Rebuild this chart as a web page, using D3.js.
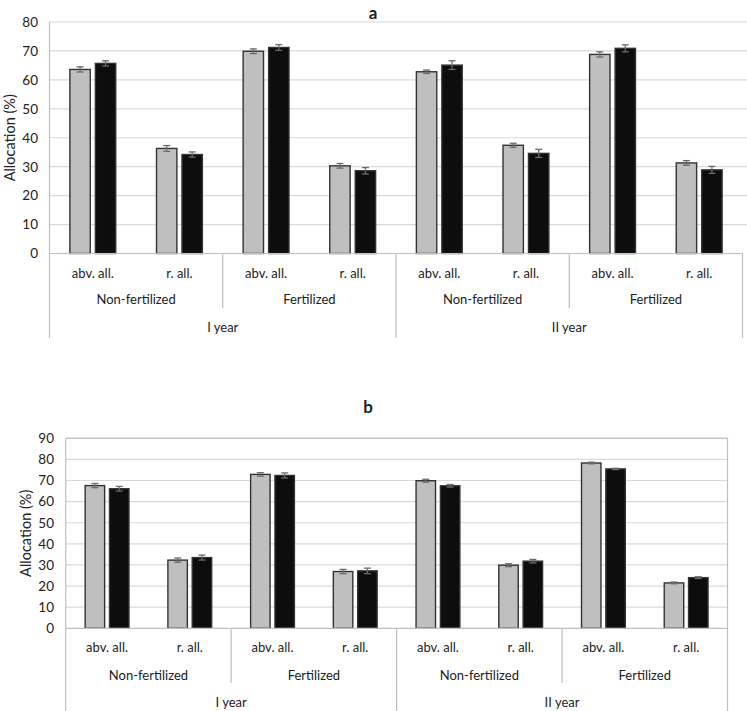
<!DOCTYPE html>
<html>
<head>
<meta charset="utf-8">
<script src="https://cdn.jsdelivr.net/npm/d3@7"></script>
<style>
  body { margin: 0; background: #fff; }
  svg { display: block; }
  text { font-family: Lato, "Open Sans", sans-serif; fill: #222; }
</style>
</head>
<body>
<svg id="chart" width="747" height="711"></svg>
<script>
// ---- data ----
const categories = ["abv. all.", "r. all."];
const treatments = ["Non-fertilized", "Fertilized"];
const years = ["I year", "II year"];
const series = ["grey", "black"];

// Panel a
const aGrey      = [63.6, 36.3, 69.9, 30.3, 62.8, 37.4, 68.8, 31.3];
const aGreyErr   = [0.9, 1.0, 0.8, 0.8, 0.6, 0.7, 0.9, 0.8];
const aBlack     = [65.7, 34.2, 71.2, 28.6, 65.1, 34.6, 70.9, 28.9];
const aBlackErr  = [0.9, 0.9, 1.0, 1.1, 1.5, 1.4, 1.2, 1.2];
const aTicks     = [0, 10, 20, 30, 40, 50, 60, 70, 80];

// Panel b
const bGrey      = [67.6, 32.3, 72.9, 26.9, 69.9, 29.9, 78.3, 21.5];
const bGreyErr   = [1.0, 1.0, 0.8, 1.0, 0.7, 0.7, 0.4, 0.4];
const bBlack     = [66.1, 33.5, 72.4, 27.2, 67.5, 31.8, 75.5, 24.0];
const bBlackErr  = [1.1, 1.2, 1.2, 1.3, 0.6, 0.8, 0.3, 0.4];
const bTicks     = [0, 10, 20, 30, 40, 50, 60, 70, 80, 90];

const svg = d3.select("#chart");

function leaves() {
  const out = [];
  years.forEach((yr, yi) => treatments.forEach((tr, ti) => categories.forEach((c, ci) => {
    out.push({ id: out.length, year: yr, treat: tr, cat: c, yi, ti, ci });
  })));
  return out;
}

function drawPanel(cfg) {
  const g = svg.append("g");
  const L = leaves();
  const x0 = d3.scaleBand().domain(L.map(d => d.id)).range([cfg.left, cfg.right]);
  const x1 = d3.scaleBand().domain(series).range([0, x0.bandwidth()])
    .paddingInner(0.2).paddingOuter(0.8);
  const y = d3.scaleLinear().domain([0, cfg.max]).range([cfg.zero, cfg.top]);

  // grid lines
  g.append("g").selectAll("line").data(cfg.ticks.filter(t => t > 0)).join("line")
    .attr("x1", cfg.left).attr("x2", cfg.gridRight)
    .attr("y1", d => y(d)).attr("y2", d => y(d))
    .attr("stroke", "#d9d9d9").attr("stroke-width", 1.2);

  // y axis tick labels
  const yAxis = d3.axisLeft(y).tickValues(cfg.ticks).tickSize(0).tickPadding(0);
  const ya = g.append("g").attr("transform", `translate(${cfg.tickX},0)`).call(yAxis);
  ya.select(".domain").remove();
  ya.selectAll("text").attr("font-size", 13.5).attr("fill", "#222")
    .style("font-family", "Lato, 'Open Sans', sans-serif");

  // axis title
  g.append("text")
    .attr("transform", `translate(${cfg.titleX},${(cfg.top + cfg.zero) / 2}) rotate(-90)`)
    .attr("text-anchor", "middle").attr("dy", "0.35em")
    .attr("font-size", 14.5).text("Allocation (%)");

  // panel label
  g.append("text").attr("x", cfg.labelX).attr("y", cfg.labelY)
    .attr("text-anchor", "middle").attr("font-weight", "bold")
    .attr("font-size", 17).attr("fill", "#000").text(cfg.label);

  // bars
  const rows = L.map((d, i) => ({ ...d, vals: [
    { s: "grey", v: cfg.grey[i], e: cfg.greyErr[i] },
    { s: "black", v: cfg.black[i], e: cfg.blackErr[i] }
  ]}));
  const grp = g.append("g").selectAll("g").data(rows).join("g")
    .attr("transform", d => `translate(${x0(d.id)},0)`);
  grp.selectAll("rect").data(d => d.vals).join("rect")
    .attr("x", d => x1(d.s)).attr("width", x1.bandwidth())
    .attr("y", d => y(d.v)).attr("height", d => y(0) - y(d.v))
    .attr("fill", d => d.s === "grey" ? "#bfbfbf" : "#0d0d0d")
    .attr("stroke", "#333").attr("stroke-width", 1.4);

  // error bars
  const eb = grp.selectAll("g.err").data(d => d.vals).join("g").attr("class", "err");
  const cx = d => x1(d.s) + x1.bandwidth() / 2;
  eb.append("line").attr("x1", cx).attr("x2", cx)
    .attr("y1", d => y(d.v + d.e)).attr("y2", d => y(d.v - d.e));
  eb.append("line").attr("x1", d => cx(d) - 3.5).attr("x2", d => cx(d) + 3.5)
    .attr("y1", d => y(d.v + d.e)).attr("y2", d => y(d.v + d.e));
  eb.append("line").attr("x1", d => cx(d) - 3.5).attr("x2", d => cx(d) + 3.5)
    .attr("y1", d => y(d.v - d.e)).attr("y2", d => y(d.v - d.e));
  eb.selectAll("line").attr("stroke", "#6b6b6b").attr("stroke-width", 1.3);

  // category axis lines
  const axc = "#bfbfbf";
  const ax = g.append("g");
  ax.append("line").attr("x1", cfg.left).attr("x2", cfg.right)
    .attr("y1", cfg.zero).attr("y2", cfg.zero).attr("stroke", "#bfbfbf").attr("stroke-width", 1.2);
  // left axis line
  ax.append("line").attr("x1", cfg.left).attr("x2", cfg.left)
    .attr("y1", cfg.top).attr("y2", cfg.row3End).attr("stroke", axc).attr("stroke-width", 1.2);
  // right line
  ax.append("line").attr("x1", cfg.right).attr("x2", cfg.right)
    .attr("y1", cfg.box ? cfg.top : cfg.zero).attr("y2", cfg.row3End)
    .attr("stroke", axc).attr("stroke-width", 1.2);
  if (cfg.box) {
    ax.append("line").attr("x1", cfg.left).attr("x2", cfg.right)
      .attr("y1", cfg.top).attr("y2", cfg.top).attr("stroke", axc).attr("stroke-width", 1.2);
  }
  // treatment separators (inner) and year separators
  L.filter(d => d.ci === 0 && d.id > 0).forEach(d => {
    const xs = x0(d.id);
    const isYear = d.ti === 0;
    ax.append("line").attr("x1", xs).attr("x2", xs)
      .attr("y1", cfg.zero).attr("y2", isYear ? cfg.row3End : cfg.row2End)
      .attr("stroke", axc).attr("stroke-width", 1.2);
  });

  // category labels
  const lab = g.append("g").attr("font-size", 13).attr("text-anchor", "middle");
  lab.selectAll("text.cat").data(L).join("text").attr("class", "cat")
    .attr("x", d => x0(d.id) + x0.bandwidth() / 2).attr("y", cfg.row1Y)
    .attr("dy", "0.35em").text(d => d.cat);
  const trs = L.filter(d => d.ci === 0);
  lab.selectAll("text.tr").data(trs).join("text").attr("class", "tr")
    .attr("x", d => x0(d.id) + x0.bandwidth()).attr("y", cfg.row2Y)
    .attr("dy", "0.35em").text(d => d.treat);
  const yrs = L.filter(d => d.ci === 0 && d.ti === 0);
  lab.selectAll("text.yr").data(yrs).join("text").attr("class", "yr")
    .attr("x", d => x0(d.id) + 2 * x0.bandwidth()).attr("y", cfg.row3Y)
    .attr("dy", "0.35em").text(d => d.year);
}

drawPanel({
  label: "a", labelX: 373, labelY: 19,
  left: 49.5, right: 742.5, gridRight: 747, top: 22, zero: 253.5, max: 80,
  ticks: aTicks, tickX: 38, titleX: 10,
  grey: aGrey, greyErr: aGreyErr, black: aBlack, blackErr: aBlackErr,
  row1Y: 273, row2Y: 299, row3Y: 327, row2End: 308, row3End: 338, box: false
});

drawPanel({
  label: "b", labelX: 368, labelY: 413,
  left: 65.7, right: 727.5, gridRight: 727.5, top: 438.3, zero: 628.3, max: 90,
  ticks: bTicks, tickX: 54, titleX: 26,
  grey: bGrey, greyErr: bGreyErr, black: bBlack, blackErr: bBlackErr,
  row1Y: 647, row2Y: 675, row3Y: 702, row2End: 683, row3End: 711, box: true
});
</script>
</body>
</html>
